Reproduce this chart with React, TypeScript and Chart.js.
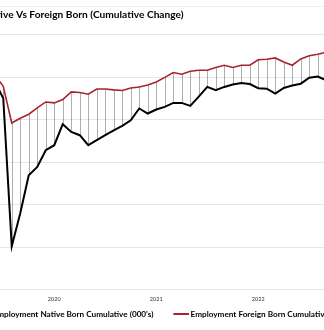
import React, { useEffect, useRef } from "react";
import { Chart, registerables } from "chart.js";

Chart.register(...registerables);

const months = [
  "2020-01", "2020-02", "2020-03", "2020-04", "2020-05", "2020-06", "2020-07", "2020-08", "2020-09", "2020-10", "2020-11", "2020-12",
  "2021-01", "2021-02", "2021-03", "2021-04", "2021-05", "2021-06", "2021-07", "2021-08", "2021-09", "2021-10", "2021-11", "2021-12",
  "2022-01", "2022-02", "2022-03", "2022-04", "2022-05", "2022-06", "2022-07", "2022-08", "2022-09", "2022-10", "2022-11", "2022-12",
  "2023-01", "2023-02", "2023-03", "2023-04", "2023-05",
];

const yearTickIndex = [8, 20, 32];
const yearTickText = ["2020", "2021", "2022"];

const nativeBorn = [
  0, -500, -2470, -19880, -16000, -11530, -10550, -8590, -8000, -5530, -6440, -6820,
  -8000, -7410, -6820, -6240, -5730, -5060, -3680, -4270, -3800, -3490, -3020, -3020,
  -3380, -2290, -1140, -1530, -1140, -860, -670, -800, -1290, -1350, -1920, -1260,
  -980, -760, -60, 80, -350,
];

const foreignBorn = [
  0, 280, -1060, -5380, -4820, -4350, -3610, -2910, -3020, -2620, -1730, -1800,
  -2000, -1380, -1380, -1490, -1560, -1260, -1140, -910, -550, -20, 550, 350,
  710, 820, 820, 1140, 1410, 1140, 1410, 1410, 2060, 2120, 2270, 1800,
  1410, 2150, 2530, 2710, 2940,
];

const CANVAS_LEFT = -76;
const CANVAS_WIDTH = 463;
const CANVAS_HEIGHT = 330;
const Y_AXIS_WIDTH = 58;
const CATEGORY_WIDTH = 8.5;

const dropLines = {
  id: "dropLines",
  beforeDatasetsDraw(chart: any) {
    const { ctx, scales } = chart;
    const x = scales.x;
    const y = scales.y;
    ctx.save();
    ctx.strokeStyle = "rgba(110,110,110,0.55)";
    ctx.lineWidth = 1;
    for (let i = 0; i < months.length; i++) {
      const a = foreignBorn[i];
      const b = nativeBorn[i];
      if (a == null || b == null) continue;
      const px = Math.round(x.getPixelForValue(i)) + 0.5;
      ctx.beginPath();
      ctx.moveTo(px, y.getPixelForValue(a));
      ctx.lineTo(px, y.getPixelForValue(b));
      ctx.stroke();
    }
    ctx.restore();
  },
};

function legendLine(color: string, thickness: number) {
  const c = document.createElement("canvas");
  c.width = 38;
  c.height = 2;
  const g = c.getContext("2d");
  if (g) {
    g.fillStyle = color;
    g.fillRect(22, 0, 16, thickness);
  }
  return c;
}

export default function App() {
  const ref = useRef<HTMLCanvasElement | null>(null);

  useEffect(() => {
    document.body.style.overflow = "hidden";
    const canvas = ref.current;
    if (!canvas) return;
    const chart = new Chart(canvas, {
      type: "line",
      data: {
        labels: months,
        datasets: [
          {
            label: "Employment Native Born Cumulative (000's)",
            data: nativeBorn,
            borderColor: "#000000",
            backgroundColor: "#000000",
            borderWidth: 2,
            pointRadius: 0,
            pointStyle: legendLine("#000000", 2) as any,
            tension: 0,
          },
          {
            label: "Employment Foreign Born Cumulative (000's)",
            data: foreignBorn,
            borderColor: "#a8232e",
            backgroundColor: "#a8232e",
            borderWidth: 1.6,
            pointRadius: 0,
            pointStyle: legendLine("#a8232e", 2) as any,
            tension: 0,
          },
        ],
      },
      options: {
        responsive: false,
        animation: false,
        devicePixelRatio: 1,
        layout: { padding: { left: 0, right: 0, top: 0, bottom: 1.5 } },
        plugins: {
          tooltip: { enabled: false },
          title: {
            display: true,
            text: "Employment Native Vs Foreign Born (Cumulative Change)",
            align: "start",
            color: "#000000",
            font: { family: "Lato", weight: "bold", size: 10.2 },
            padding: { top: 9, bottom: 13.5 },
          },
          legend: {
            position: "bottom",
            labels: {
              usePointStyle: true,
              pointStyleWidth: 32,
              padding: 1,
              color: "#000000",
              font: { family: "Lato", weight: "bold", size: 8.2 },
            },
          },
        },
        scales: {
          x: {
            type: "category",
            offset: true,
            grid: { display: false, drawTicks: false },
            border: { display: false },
            ticks: {
              autoSkip: false,
              maxRotation: 0,
              minRotation: 0,
              padding: 6.5,
              color: "#333333",
              font: { family: "Lato", size: 5.5 },
              callback: (_v: any, i: number) => {
                const j = yearTickIndex.indexOf(i);
                return j >= 0 ? yearTickText[j] : "";
              },
            },
          },
          y: {
            min: -25000,
            max: 5000,
            position: "left",
            afterFit: (s: any) => {
              s.width = Y_AXIS_WIDTH;
            },
            grid: { color: "#e6e6e6", lineWidth: 1, drawTicks: false },
            border: { display: false },
            ticks: {
              stepSize: 5000,
              color: "#404040",
              font: { family: "Lato", size: 6 },
              callback: (v: any) => Number(v).toLocaleString("en-US"),
            },
          },
          y2: {
            position: "right",
            display: true,
            grid: { display: false, drawTicks: false },
            border: { display: false },
            ticks: { display: false },
            afterFit: (s: any) => {
              s.width = CANVAS_WIDTH - Y_AXIS_WIDTH - CATEGORY_WIDTH * months.length;
            },
          },
        },
      },
      plugins: [dropLines],
    });
    return () => chart.destroy();
  }, []);

  return (
    <div>
      <div
        style={{
          position: "fixed",
          left: 0,
          top: 6,
          width: 324,
          height: 1,
          background: "#efefef",
        }}
      />
      <div
        style={{
          position: "fixed",
          left: CANVAS_LEFT,
          top: 0,
          width: CANVAS_WIDTH,
          height: CANVAS_HEIGHT,
        }}
      >
        <canvas ref={ref} width={CANVAS_WIDTH} height={CANVAS_HEIGHT} />
      </div>
    </div>
  );
}
